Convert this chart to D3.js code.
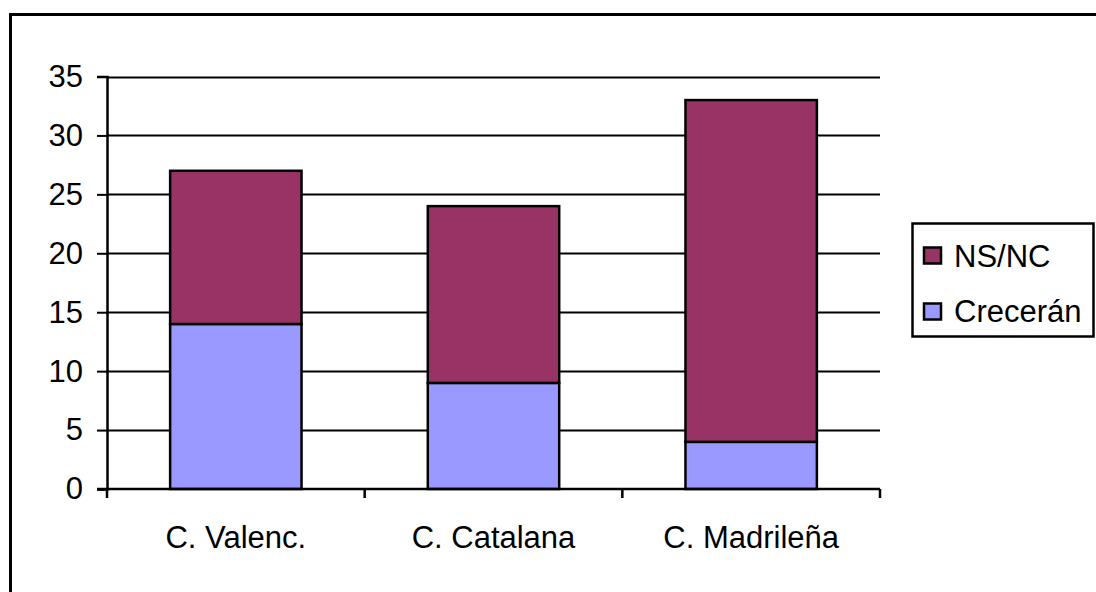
<!DOCTYPE html>
<html>
<head>
<meta charset="utf-8">
<script src="https://cdn.jsdelivr.net/npm/d3@7"></script>
<style>
  html, body { margin: 0; padding: 0; background: #fff; }
  svg { display: block; }
  text { font-family: "Liberation Sans", Arial, sans-serif; fill: #000; }
</style>
</head>
<body>
<svg id="chart" width="1096" height="592"></svg>
<script>
// Regions and stacked series values
const categories = ["C. Valenc.", "C. Catalana", "C. Madrileña"];
const crecenValues = [14, 9, 4];
const nsncValues = [13, 15, 29];
const seriesNames = ["Crecerán", "NS/NC"];
const seriesColors = ["#9999FF", "#993366"];
const yTicks = [0, 5, 10, 15, 20, 25, 30, 35];

const FONT_SIZE = "31px";
const svg = d3.select("#chart");

// Outer frame (right and bottom edges lie past the canvas)
svg.append("rect")
  .attr("x", 10.5).attr("y", 14.5)
  .attr("width", 1100).attr("height", 600)
  .attr("fill", "#fff").attr("stroke", "#000").attr("stroke-width", 3);

const plot = { left: 107, right: 880, top: 76.5, bottom: 489 };

const x = d3.scaleBand()
  .domain(categories)
  .range([plot.left, plot.right])
  .paddingInner(0.49)
  .paddingOuter(0.245);

const y = d3.scaleLinear()
  .domain([0, 35])
  .range([plot.bottom, plot.top]);

// Horizontal gridlines
svg.append("g")
  .selectAll("line")
  .data(yTicks.filter(d => d > 0))
  .join("line")
  .attr("x1", plot.left).attr("x2", plot.right)
  .attr("y1", d => Math.round(y(d)) + 0.5).attr("y2", d => Math.round(y(d)) + 0.5)
  .attr("stroke", "#000").attr("stroke-width", 2);

// Stacked bars
const rows = categories.map((c, i) => ({ cat: c, "Crecerán": crecenValues[i], "NS/NC": nsncValues[i] }));
const stack = d3.stack().keys(seriesNames)(rows);

svg.append("g")
  .selectAll("g")
  .data(stack)
  .join("g")
  .attr("fill", (d, i) => seriesColors[i])
  .selectAll("rect")
  .data(d => d)
  .join("rect")
  .attr("x", d => x(d.data.cat))
  .attr("y", d => y(d[1]))
  .attr("width", x.bandwidth())
  .attr("height", d => y(d[0]) - y(d[1]))
  .attr("stroke", "#000").attr("stroke-width", 2.5);

// Y axis
const yAxis = svg.append("g")
  .attr("transform", `translate(${plot.left},0)`)
  .call(d3.axisLeft(y).tickValues(yTicks).tickSize(10).tickPadding(14).tickFormat(d3.format("d")));
yAxis.select(".domain").attr("stroke", "#000").attr("stroke-width", 2.5);
yAxis.selectAll(".tick line").attr("stroke", "#000").attr("stroke-width", 2);
yAxis.selectAll(".tick text")
  .style("font-family", '"Liberation Sans", Arial, sans-serif')
  .style("font-size", FONT_SIZE).attr("fill", "#000");

// X axis with category separators
const xAxisG = svg.append("g")
  .attr("transform", `translate(0,${plot.bottom})`);
xAxisG.append("line")
  .attr("x1", plot.left - 10).attr("x2", plot.right)
  .attr("y1", 0).attr("y2", 0)
  .attr("stroke", "#000").attr("stroke-width", 2.5);
const bounds = d3.range(categories.length + 1).map(i => plot.left + i * (plot.right - plot.left) / categories.length);
xAxisG.selectAll("line.sep")
  .data(bounds)
  .join("line")
  .attr("class", "sep")
  .attr("x1", d => d).attr("x2", d => d)
  .attr("y1", 0).attr("y2", 9)
  .attr("stroke", "#000").attr("stroke-width", 2.5);
xAxisG.selectAll("text")
  .data(categories)
  .join("text")
  .attr("x", d => x(d) + x.bandwidth() / 2)
  .attr("y", 59)
  .attr("text-anchor", "middle")
  .style("font-size", FONT_SIZE)
  .text(d => d);

// Legend
const legend = svg.append("g");
legend.append("rect")
  .attr("x", 912.5).attr("y", 223.5)
  .attr("width", 181).attr("height", 113)
  .attr("fill", "#fff").attr("stroke", "#000").attr("stroke-width", 2.5);
const legendItems = [
  { name: seriesNames[1], color: seriesColors[1], cy: 255.5, base: 267 },
  { name: seriesNames[0], color: seriesColors[0], cy: 311.5, base: 322 }
];
const li = legend.selectAll("g.item")
  .data(legendItems)
  .join("g")
  .attr("class", "item");
li.append("rect")
  .attr("x", 924).attr("y", d => d.cy - 8)
  .attr("width", 17).attr("height", 16)
  .attr("fill", d => d.color).attr("stroke", "#000").attr("stroke-width", 2.5);
li.append("text")
  .attr("x", 954).attr("y", d => d.base)
  .style("font-size", FONT_SIZE)
  .text(d => d.name);
</script>
</body>
</html>
